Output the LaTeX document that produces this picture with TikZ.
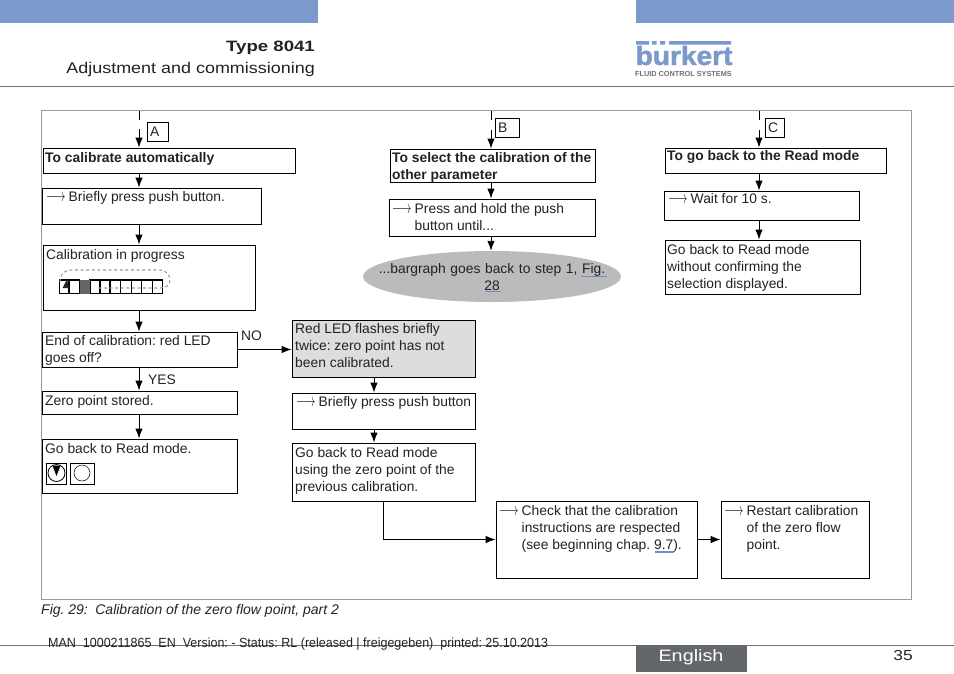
\documentclass[tikz,border=0pt]{standalone}
\usepackage{fontspec}
\setmainfont{Liberation Sans}
\newfontfamily\lgfont{Liberation Sans Bold}[FakeBold=1.6]
\usetikzlibrary{arrows.meta,fit,shapes.geometric}
\definecolor{band}{HTML}{7A9ACB}
\definecolor{rulegray}{HTML}{6E7074}
\definecolor{framegray}{HTML}{9A9A9A}
\definecolor{linkblue}{HTML}{6C8FC8}
\definecolor{ellgray}{HTML}{BBBBBB}
\definecolor{redgray}{HTML}{DDDDDD}
\definecolor{tabgray}{HTML}{63676C}
\definecolor{inkc}{HTML}{222222}
\newcommand{\bxx}[6][]{\node[boxx,#1,fit={(#3,#4)(#5,#6)}] (#2) {};}
\newcommand{\tx}[5][]{\node[txt,#1] (#2) at (#3,#4) {#5};}
\newcommand{\arw}{\makebox[22.5pt][l]{\scalebox{1}[1.5]{\fontsize{12.5}{12}\selectfont$\longrightarrow$}}}
\newcommand{\hng}{\hspace*{22.5pt}}
\frenchspacing
\tikzset{
  boxx/.style={draw=black,line width=.9pt,inner sep=0pt},
  txt/.style={anchor=north west,inner sep=0pt,yshift=12.1pt,align=left,text=inkc,
    font=\fontsize{13.85}{17.3}\selectfont,execute at begin node=\strut},
  bld/.style={font=\fontsize{13.85}{17.3}\selectfont\bfseries},
  arr/.style={line width=.9pt,-{Latex[length=10pt,width=7.5pt]}},
  plain/.style={line width=.9pt},
  blnk/.style={line width=1.1pt,linkblue},
}
\begin{document}
\begin{tikzpicture}[x=1pt,y=-1pt]
\useasboundingbox (0,0) rectangle (954,673);
% header
\fill[band] (0,0) rectangle (318,23);
\fill[band] (636,0) rectangle (954,23);
\draw[rulegray,line width=1pt] (0,86) -- (954,86);
\node[anchor=base east,inner sep=0,font=\fontsize{15}{17}\selectfont\bfseries,text=inkc] (ty) at (315,51) {\scalebox{1.24}[1]{Type 8041}};
\node[anchor=base east,inner sep=0,font=\fontsize{15.5}{17}\selectfont,text=inkc] (adj) at (315,73) {\scalebox{1.158}[1]{Adjustment and commissioning}};
% logo
\node[anchor=base west,inner sep=0,text=band,font=\fontsize{26.5}{26}\lgfont] (lg) at (635.5,65) {\scalebox{1.06}[1]{bürkert}};
\fill[white] (651,45) rectangle (668,50);
\fill[band] (636,41) rectangle (649,44.5) (652,41) rectangle (656.5,44.5) (660,41) rectangle (665,44.5) (669,41) rectangle (731,44.5);
\node[anchor=base west,inner sep=0,text=rulegray,font=\fontsize{7.3}{8}\selectfont\bfseries] (lg2) at (635,76) {FLUID CONTROL SYSTEMS};
% frame
\draw[framegray,line width=1pt] (41,110) rectangle (911,599);
\draw[framegray,line width=1pt] (41,599.5) -- (911,599.5);
% guide coordinates
\coordinate (cA) at (139,0); \coordinate (cB) at (491,0); \coordinate (cC) at (759,0);
\coordinate (cD) at (374,0); \coordinate (cE) at (383,0);
% column A
\bxx[line width=.6pt]{lA}{147}{122}{168}{141}
\bxx{tA}{43}{148}{295}{173}
\bxx{bA}{42}{188}{261}{224}
\bxx{cal}{43}{245}{255}{310}
\bxx{endc}{42}{332}{237}{367}
\bxx{zero}{42}{391}{237}{414}
\bxx{goA}{42}{439}{237}{493}
\bxx{icA}{46}{463}{66.5}{484}
\bxx{icB}{70.5}{463}{94}{484}
% column B
\bxx[line width=.6pt]{lB}{495}{118}{519}{137}
\bxx{tB}{390}{149}{595}{182}
\bxx{bB}{389}{199}{595}{236}
\node[ellipse,fill=ellgray,inner sep=0,minimum width=258pt,minimum height=51pt] (ell) at (492,276.5) {};
\bxx[fill=redgray]{red}{292}{320}{475}{377}
\bxx{prs}{292}{393}{475}{429}
\bxx{goB}{292}{443}{475}{501}
\bxx{chk}{496}{501}{697}{578}
\bxx{rst}{721}{501}{869}{578}
% column C
\bxx[line width=.6pt]{lC}{765}{118}{784}{137}
\bxx{tC}{665}{148}{886}{173}
\bxx{wt}{664}{191}{859}{220}
\bxx{bk}{665}{240}{860}{294}
% connectors
\coordinate (a0) at (139,111); \coordinate (a1) at (139,120); \coordinate (a2) at (139,129);
\coordinate (b0) at (491,111); \coordinate (b1) at (491,120); \coordinate (b2) at (491,130);
\coordinate (c0) at (759,111); \coordinate (c1) at (759,120); \coordinate (c2) at (759,130);
\draw[plain] (a0) -- (a1); \draw[plain] (b0) -- (b1); \draw[plain] (c0) -- (c1);
\draw[arr] (a2) -- (cA |- tA.north);
\draw[arr] (cA |- tA.south) -- (cA |- bA.north);
\draw[arr] (cA |- bA.south) -- (cA |- cal.north);
\draw[arr] (cA |- cal.south) -- (cA |- endc.north);
\draw[arr] (cA |- endc.south) -- (cA |- zero.north);
\draw[arr] (cA |- zero.south) -- (cA |- goA.north);
\draw[arr] (endc.east) -- (endc.east -| red.west);
\draw[arr] (b2) -- (cB |- tB.north);
\draw[arr] (cB |- tB.south) -- (cB |- bB.north);
\draw[arr] (cB |- bB.south) -- (cB |- ell.north);
\draw[arr] (cD |- red.south) -- (cD |- prs.north);
\draw[arr] (cD |- prs.south) -- (cD |- goB.north);
\draw[arr] (cE |- goB.south) |- (chk.west);
\draw[arr] (chk.east) -- (rst.west);
\draw[arr] (c2) -- (cC |- tC.north);
\draw[arr] (cC |- tC.south) -- (cC |- wt.north);
\draw[arr] (cC |- wt.south) -- (cC |- bk.north);
% texts column A
\tx{tla}{150}{136}{A}
\tx[bld]{ttA}{45}{162}{To calibrate automatically}
\tx{tbA}{46}{201}{\arw Briefly press push button.}
\tx{tcal}{46}{259}{Calibration in progress}
\tx{tend}{45}{347}{End of calibration: red LED\\goes off?}
\tx{tno}{241}{340}{NO}
\tx{tyes}{148}{384}{YES}
\tx{tzero}{45}{405}{Zero point stored.}
\tx{tgoA}{45}{453}{Go back to Read mode.}
% bargraph
\foreach \xa/\xb in {59.5/69,69/79.5,90/100,100/110,110/120.7,120.7/131.5,131.5/141.7,141.7/152.3,152.3/162.7}
  \draw[line width=1.2pt] (\xa,280) rectangle (\xb,293.5);
\fill[black!60] (80,280) rectangle (89.5,294);
\draw[framegray,line width=1.1pt,dash pattern=on 3pt off 2.6pt] (60,282) .. controls (60,274) and (64,270) .. (72,270) -- (158,270) .. controls (168,270) and (170,276) .. (170,280) .. controls (170,285) and (166,288) .. (160,288) -- (98,288);
\fill[black!85] (67,279) -- (69,288) -- (62.5,288) -- cycle;
% icons
\draw[line width=.8pt] (56.5,473) circle (8.5);
\fill[black] (52.5,465.5) -- (60.5,465.5) -- (56.5,476) -- cycle;
\draw[line width=.5pt] (82,473) circle (8);
% texts column B
\tx{tlb}{498}{132}{B}
\tx[bld]{ttB}{392}{164}{To select the calibration of the\\other parameter}
\tx{tbB}{392}{215}{\arw Press and hold the push\\\hng button until...}
\tx[align=center,anchor=north,text width=250pt]{tell}{492}{273}{...bargraph goes back to step 1, Fig.\\28}
\draw[blnk] (581,276.5) -- (606.5,276.5);
\draw[blnk] (484.5,291.5) -- (500.5,291.5);
\tx{tred}{295}{335}{Red LED flashes briefly\\twice: zero point has not\\been calibrated.}
\tx{tprs}{296}{406}{\arw Briefly press push button}
\tx{tgoB}{295}{459}{Go back to Read mode\\using the zero point of the\\previous calibration.}
\tx{tchk}{499}{517}{\arw Check that the calibration\\\hng instructions are respected\\\hng (see beginning chap. 9.7).}
\draw[blnk] (654.5,552) -- (674,552);
\tx{trst}{724}{517}{\arw Restart calibration\\\hng of the zero flow\\\hng point.}
% texts column C
\tx{tlc}{768}{132}{C}
\tx[bld]{ttC}{667}{160}{To go back to the Read mode}
\tx{twt}{668}{203}{\arw Wait for 10 s.}
\tx{tbk}{667}{256}{Go back to Read mode\\without confirming the\\selection displayed.}
% footer
\node[anchor=base west,inner sep=0,text=inkc,font=\fontsize{14}{17}\selectfont\itshape] (cap) at (41,614) {Fig. 29:\hspace{7.5pt}Calibration of the zero flow point, part 2};
\draw[rulegray,line width=1pt] (0,645) -- (954,645);
\node[anchor=base west,inner sep=0,text=inkc,font=\fontsize{13.3}{17}\selectfont] (man) at (48,647) {\scalebox{.94}[1]{MAN\ \ 1000211865\ \ EN\ \ Version: - Status: RL (released | freigegeben)\ \ printed: 25.10.2013}};
\fill[tabgray] (636,645) rectangle (747,672);
\node[anchor=base,inner sep=0,text=white,font=\fontsize{16.5}{17}\selectfont] (eng) at (691,661) {\scalebox{1.2}[1]{English}};
\node[anchor=base east,inner sep=0,text=inkc,font=\fontsize{14.5}{17}\selectfont] (pg) at (913,660) {\scalebox{1.2}[1]{35}};
\end{tikzpicture}
\end{document}
